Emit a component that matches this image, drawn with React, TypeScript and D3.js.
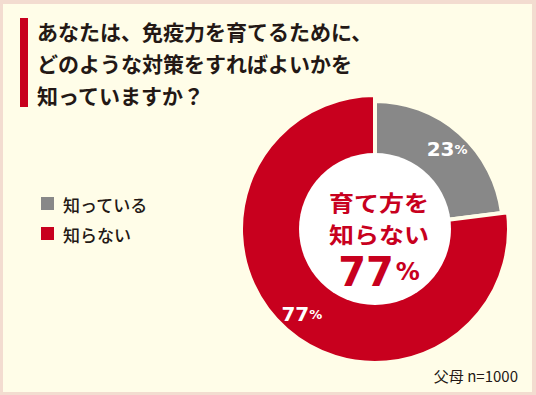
import React from "react";
import * as d3 from "d3";

const categories = ["知っている", "知らない"];
const values = [23, 77];
const colors = ["#888888", "#c8001e"];
const titleLines = ["あなたは、免疫力を育てるために、", "どのような対策をすればよいかを", "知っていますか？"];
const centerLines = ["育て方を", "知らない"];
const centerValue = "77";
const footnote = "父母 n=1000";

const W = 536, H = 395;
const BG = "#fffde8";
const FONT = "'Noto Sans CJK JP', 'Noto Sans', sans-serif";

export default function App() {
  const cx = 375, cy = 229;
  const pie = d3.pie<number>().sort(null).value((d) => d);
  const arcs = pie(values);
  const outerR = [128, 134];
  const innerR = 60;
  const holeR = 76;
  const labelArc = d3.arc<any>().innerRadius(103).outerRadius(103);
  const labelShift = [[4, -3], [-5, 8]];
  return (
    <svg width={W} height={H} style={{ position: "absolute", left: 0, top: 0, fontFamily: FONT }}>
      <rect x={0} y={0} width={W} height={H} fill="#f3dcd0" />
      <rect x={3} y={4} width={W - 7} height={H - 7} fill={BG} />
      <rect x={20} y={18} width={8} height={89} fill="#c8001e" />
      {titleLines.map((t, i) => (
        <text key={i} x={37} y={31 + i * 32} fontSize={21} fontWeight={700} fill="#231815" dominantBaseline="central">
          {t}
        </text>
      ))}
      {categories.map((c, i) => (
        <g key={c}>
          <rect x={41} y={197 + i * 30} width={13} height={13} fill={colors[i]} />
          <text x={63} y={204 + i * 30} fontSize={17} fontWeight={500} fill="#231815" dominantBaseline="central">
            {c}
          </text>
        </g>
      ))}
      <g transform={`translate(${cx},${cy})`}>
        {arcs.map((a, i) => {
          const path = d3.arc<any>().innerRadius(innerR).outerRadius(outerR[i])(a) as string;
          return <path key={i} d={path} fill={colors[i]} stroke={BG} strokeWidth={4} />;
        })}
        <circle r={holeR} fill="#ffffff" />
        {arcs.map((a, i) => {
          const [lx, ly] = labelArc.centroid(a);
          return (
            <text key={i} x={lx + labelShift[i][0]} y={ly + labelShift[i][1]} textAnchor="middle" dominantBaseline="central" fill="#ffffff" fontWeight={900} fontFamily="'DejaVu Sans', sans-serif">
              <tspan fontSize={20}>{values[i]}</tspan>
              <tspan fontSize={13}>%</tspan>
            </text>
          );
        })}
        {centerLines.map((t, i) => (
          <text key={i} x={4} y={-28 + i * 32} textAnchor="middle" dominantBaseline="central" fontSize={22} fontWeight={700} fill="#c8001e" textLength={100} lengthAdjust="spacingAndGlyphs">
            {t}
          </text>
        ))}
        <text x={4} y={43} textAnchor="middle" dominantBaseline="central" fill="#c8001e" fontWeight={900} fontFamily="'DejaVu Sans', sans-serif">
          <tspan fontSize={40}>{centerValue}</tspan>
          <tspan dx={2} fontSize={24}>%</tspan>
        </text>
      </g>
      <text x={518} y={375} textAnchor="end" dominantBaseline="central" fontSize={15} fill="#231815">
        {footnote}
      </text>
    </svg>
  );
}
